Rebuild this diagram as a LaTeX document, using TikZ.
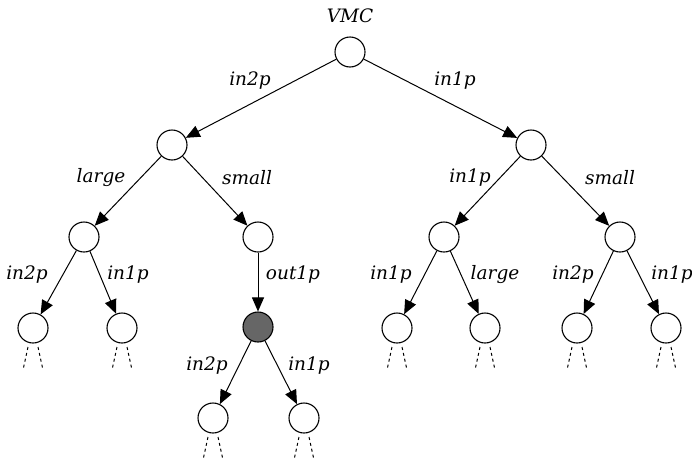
\documentclass[tikz,border=0pt]{standalone}
\usepackage{fontspec}
\newfontfamily\lblfont{DejaVu Serif}
\usetikzlibrary{arrows.meta}
\begin{document}
\begin{tikzpicture}[x=1pt,y=-1pt,
  st/.style={circle,draw,line width=1.1pt,minimum size=30pt,inner sep=0pt},
  gst/.style={st,fill=black!60},
  edge/.style={line width=1pt,-{Triangle[length=14pt,width=12pt]}},
  lbl/.style={font=\lblfont\fontsize{18.5}{21}\selectfont\itshape,inner sep=0pt},
  tail/.style={line width=1pt,dash pattern=on 3pt off 3pt}]
\useasboundingbox (0,0) rectangle (692,466);
\node[st] (r) at (350,52) {};
\node[lbl] (tvmc) at (350,16) {VMC};
\node[st] (a) at (172,145) {};
\node[st] (b) at (531,145) {};
\node[st] (aa) at (84,237) {};
\node[st] (ab) at (258,237) {};
\node[st] (ba) at (444,237) {};
\node[st] (bb) at (620,237) {};
\node[st] (aaa) at (33,328) {};
\node[st] (aab) at (122,328) {};
\node[gst] (aba) at (258,327) {};
\node[st] (baa) at (397,328) {};
\node[st] (bab) at (485,328) {};
\node[st] (bba) at (577,328) {};
\node[st] (bbb) at (666,328) {};
\node[st] (abaa) at (213,418) {};
\node[st] (abab) at (304,418) {};
\draw[edge] (r) -- (a);
\draw[edge] (r) -- (b);
\draw[edge] (a) -- (aa);
\draw[edge] (a) -- (ab);
\draw[edge] (b) -- (ba);
\draw[edge] (b) -- (bb);
\draw[edge] (aa) -- (aaa);
\draw[edge] (aa) -- (aab);
\draw[edge] (ab) -- (aba);
\draw[edge] (ba) -- (baa);
\draw[edge] (ba) -- (bab);
\draw[edge] (bb) -- (bba);
\draw[edge] (bb) -- (bbb);
\draw[edge] (aba) -- (abaa);
\draw[edge] (aba) -- (abab);
\node[lbl] (l1) at (250,81) {in2p};
\node[lbl] (l2) at (455,81) {in1p};
\node[lbl] (l3) at (101,178) {large};
\node[lbl] (l4) at (247,178) {small};
\node[lbl] (l5) at (470,178) {in1p};
\node[lbl] (l6) at (610,178) {small};
\node[lbl] (l7) at (27,275) {in2p};
\node[lbl] (l8) at (128,275) {in1p};
\node[lbl] (l9) at (293,275) {out1p};
\node[lbl] (l10) at (391,275) {in1p};
\node[lbl] (l11) at (495,275) {large};
\node[lbl] (l12) at (573,275) {in2p};
\node[lbl] (l13) at (672,275) {in1p};
\node[lbl] (l14) at (207,366) {in2p};
\node[lbl] (l15) at (309,366) {in1p};
\foreach \n in {aaa,aab,baa,bab,bba,bbb,abaa,abab}{
  \draw[tail] ([shift={(-5,19)}]\n.center) -- ([shift={(-10,42)}]\n.center);
  \draw[tail] ([shift={(5,19)}]\n.center) -- ([shift={(10,42)}]\n.center);
}
\end{tikzpicture}
\end{document}
